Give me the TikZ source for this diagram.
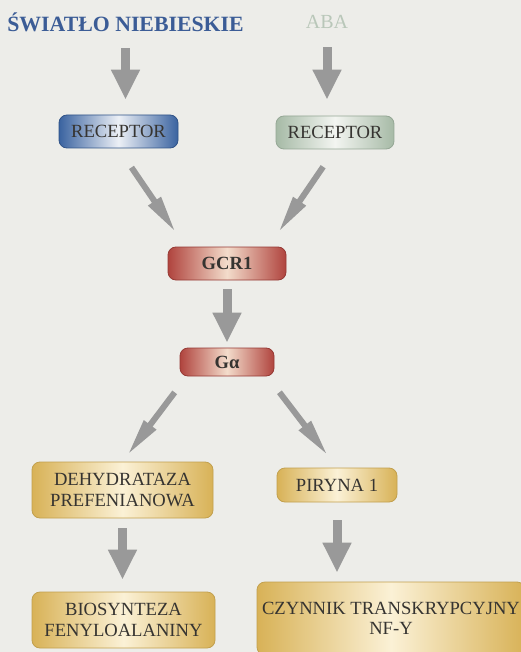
\documentclass[tikz,border=0pt]{standalone}
\usepackage{fontspec}
\setmainfont{Liberation Serif}
\usetikzlibrary{arrows.meta,calc}
\definecolor{bg}{HTML}{EDEDE9}
\definecolor{txt}{HTML}{363431}
\definecolor{arrowgray}{HTML}{999999}
\definecolor{titleblue}{HTML}{3B5C96}
\definecolor{abagreen}{HTML}{B9C7B9}
\definecolor{bluedk}{HTML}{3A63A0}
\definecolor{bluelt}{HTML}{ECF0F6}
\definecolor{greendk}{HTML}{A6BAA6}
\definecolor{greenlt}{HTML}{F3F5F1}
\definecolor{reddk}{HTML}{B0443E}
\definecolor{redlt}{HTML}{F3DCCB}
\definecolor{golddk}{HTML}{D8B257}
\definecolor{goldlt}{HTML}{FBF1D6}

\begin{document}
\begin{tikzpicture}[x=1pt, y=-1pt,
  box/.style={rounded corners=8pt, line width=0.8pt, text=txt, align=center, inner sep=0pt,
    font=\fontsize{18.6}{20.5}\selectfont},
  bluebox/.style={box, left color=bluedk, right color=bluedk, middle color=bluelt, draw=bluedk!85!black},
  greenbox/.style={box, left color=greendk, right color=greendk, middle color=greenlt, draw=greendk!90!black},
  redbox/.style={box, left color=reddk, right color=reddk, middle color=redlt, draw=reddk!85!black,
    font=\fontsize{18.6}{20.5}\selectfont\bfseries},
  goldbox/.style={box, left color=golddk, right color=golddk, middle color=goldlt, draw=golddk!90!black},
  vArrow/.style={draw=arrowgray, line width=9pt, -{Triangle[width=27pt,length=30pt]}},
  dArrow/.style={draw=arrowgray, line width=6pt, -{Triangle[width=14pt,length=38pt]}}]
\fill[bg] (0,0) rectangle (521,652);
\useasboundingbox (0,0) rectangle (521,652);

\node (sw) at (125.5,22) [text=titleblue, font=\fontsize{21.8}{22}\selectfont\bfseries] {ŚWIATŁO NIEBIESKIE};
\node (aba) at (327,22) [text=abagreen, font=\fontsize{20}{20}\selectfont] {ABA};

\node (recL) at (118.5,131.5) [bluebox, minimum width=119pt, minimum height=33pt] {RECEPTOR};
\node (recR) at (335,132.5) [greenbox, minimum width=118pt, minimum height=33pt] {RECEPTOR};
\node (gcr) at (227,263.5) [redbox, minimum width=118pt, minimum height=33pt] {GCR1};
\node (ga) at (227,362) [redbox, minimum width=94pt, minimum height=28pt] {Gα};
\node (deh) at (122.5,490) [goldbox, minimum width=181pt, minimum height=56pt] {DEHYDRATAZA\\PREFENIANOWA};
\node (pir) at (337,485) [goldbox, minimum width=120pt, minimum height=34pt] {PIRYNA 1};
\node (bio) at (123.5,620) [goldbox, minimum width=183pt, minimum height=56pt] {BIOSYNTEZA\\FENYLOALANINY};
\node (czy) at (391,618.5) [goldbox, minimum width=268pt, minimum height=73pt] {CZYNNIK TRANSKRYPCYJNY\\NF-Y};

\draw[vArrow, shorten <=13pt, shorten >=15pt] (sw.south) -- (sw.south |- recL.north);
\draw[vArrow, shorten <=15pt, shorten >=16pt] (aba.south) -- (aba.south |- recR.north);
\draw[dArrow, shorten <=23pt, shorten >=17pt] (recL.south) -- ($(gcr.north west)!.3!(gcr.north)$);
\draw[dArrow, shorten <=21pt, shorten >=17pt] (recR.south) -- ($(gcr.north east)!.3!(gcr.north)$);
\draw[vArrow, shorten <=9pt, shorten >=5pt] (gcr.south) -- (ga.north);
\draw[dArrow, shorten <=20pt, shorten >=8pt] ($(ga.south west)!.15!(ga.south)$) -- (deh.north);
\draw[dArrow, shorten <=20pt, shorten >=15pt] ($(ga.south east)!.15!(ga.south)$) -- (pir.north);
\draw[vArrow, shorten <=10pt, shorten >=12pt] (deh.south) -- (deh.south |- bio.north);
\draw[vArrow, shorten <=18pt, shorten >=9pt] (pir.south) -- (pir.south |- czy.north);
\end{tikzpicture}
\end{document}
